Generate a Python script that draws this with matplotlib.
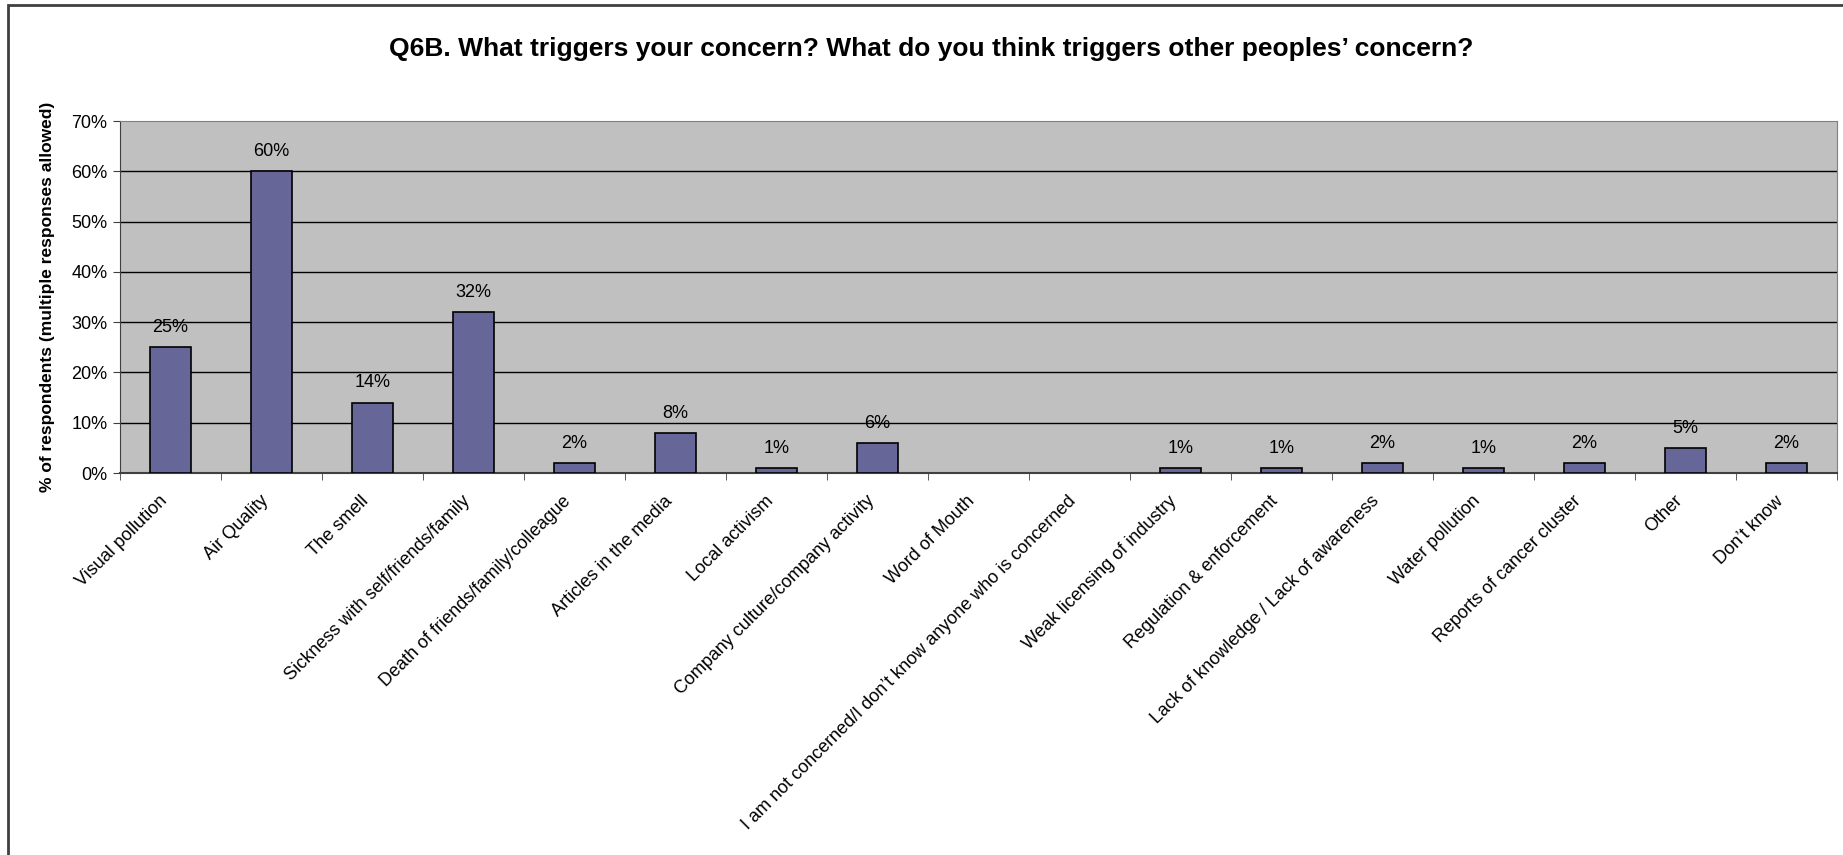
import matplotlib.pyplot as plt
import matplotlib.patches as mpatches
import matplotlib.transforms as mtransforms
import numpy as np

plt.rcParams['font.family'] = ['Liberation Sans', 'DejaVu Sans']

categories = ['Visual pollution', 'Air Quality', 'The smell',
              'Sickness with self/friends/family', 'Death of friends/family/colleague',
              'Articles in the media', 'Local activism', 'Company culture/company activity',
              'Word of Mouth', 'I am not concerned/I don\u2019t know anyone who is concerned',
              'Weak licensing of industry', 'Regulation & enforcement',
              'Lack of knowledge / Lack of awareness', 'Water pollution',
              'Reports of cancer cluster', 'Other', 'Don\u2019t know']
values = [25, 60, 14, 32, 2, 8, 1, 6, 0, 0, 1, 1, 2, 1, 2, 5, 2]
yticks = [0, 10, 20, 30, 40, 50, 60, 70]

fig = plt.figure(figsize=(18.43, 8.55), dpi=100)
ax = fig.add_axes([120 / 1843, 1 - 473 / 855, (1837 - 120) / 1843, (473 - 121) / 855])

x = np.arange(len(categories))
vals = np.array(values)
nonzero = vals > 0
ax.set_facecolor('#c0c0c0')
# zero bars are not drawn at all in the original
ax.bar(x[nonzero], vals[nonzero], width=0.4, color='#666699', edgecolor='black',
       linewidth=1.2, zorder=3)

# grid lines (black, excel style)
for v in yticks[1:-1]:
    ax.axhline(v, color='black', linewidth=1, zorder=1)

# value labels, skip the empty ones
for xi, v in zip(x, values):
    if v > 0:
        ax.annotate('%d%%' % v, (xi, v), xytext=(0, 8), textcoords='offset points',
                    ha='center', va='bottom', fontsize=13)

ax.set_xlim(-0.5, len(categories) - 0.5)
ax.set_ylim(0, 70)
ax.set_yticks(yticks)
ax.set_yticklabels(['%d%%' % t for t in yticks], fontsize=13)
ax.set_xticks(x)
ax.set_xticklabels(categories, rotation=45, ha='right', va='top',
                   rotation_mode='anchor', fontsize=13)
ax.tick_params(axis='x', length=0, pad=14)
# nudge the slanted labels a bit to the left so they end under the bar
shift = mtransforms.ScaledTranslation(-0.12, 0, fig.dpi_scale_trans)
for lbl in ax.get_xticklabels():
    lbl.set_transform(lbl.get_transform() + shift)
# x ticks sit between the categories
ax.set_xticks(np.arange(len(categories) + 1) - 0.5, minor=True)
ax.tick_params(axis='x', which='minor', length=5, color='#404040')
ax.tick_params(axis='y', length=5, color='#404040', pad=4)

for side in ['top', 'right']:
    ax.spines[side].set_color('#808080')
ax.spines['left'].set_color('#404040')
ax.spines['bottom'].set_color('#404040')
ax.spines['bottom'].set_linewidth(1.5)

ax.set_ylabel('% of respondents (multiple responses allowed)', fontsize=12.5,
              fontweight='bold', labelpad=12)

fig.text(0.505, 1 - 49 / 855,
         'Q6B. What triggers your concern? What do you think triggers other peoples\u2019 concern?',
         ha='center', va='center', fontsize=19, fontweight='bold')

# outer chart frame
frame = mpatches.Rectangle((8 / 1843, -0.1), 1.1, 1 - 5 / 855 + 0.1, transform=fig.transFigure,
                           fill=False, edgecolor='#404040', linewidth=2)
fig.patches.append(frame)

plt.savefig('out.png', dpi=100)
